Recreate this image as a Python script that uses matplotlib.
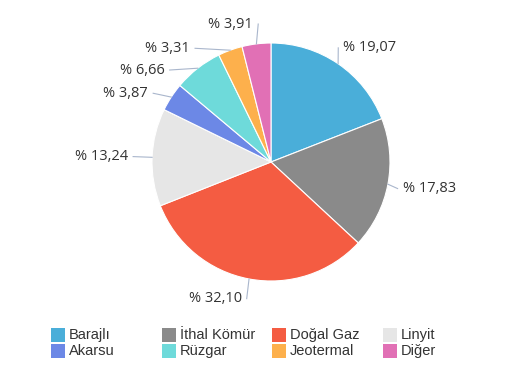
import numpy as np
import matplotlib
matplotlib.use("Agg")
import matplotlib.pyplot as plt
from matplotlib.patches import Rectangle

categories = ["Barajlı", "İthal Kömür", "Doğal Gaz", "Linyit", "Akarsu", "Rüzgar", "Jeotermal", "Diğer"]
values = [19.07, 17.83, 32.10, 13.24, 3.87, 6.66, 3.31, 3.91]
labels = ["% 19,07", "% 17,83", "% 32,10", "% 13,24", "% 3,87", "% 6,66", "% 3,31", "% 3,91"]
colors = ["#4aaed9", "#8a8a8a", "#f45c42", "#e6e6e6", "#6c88e6", "#6edada", "#fdb04c", "#e170b5"]

# layout (pixels)
W, H = 511, 374
cx, cy = 271, H - 162
R = 119
label_r = 137
gap = 5
nudges = [(-5, -1), (-3, 1), (-4, 2), (-6, 0), (-8, 6), (-22, 16), (-34, 15), (-1, -2)]

fig = plt.figure(figsize=(W / 100, H / 100), dpi=100)
ax = fig.add_axes([0, 0, 1, 1])
ax.axis("off")

wedges, _ = ax.pie(values, colors=colors, startangle=90, counterclock=False,
                   center=(cx, cy), radius=R,
                   wedgeprops=dict(edgecolor="white", linewidth=0.8))
ax.set_xlim(0, W)
ax.set_ylim(0, H)
ax.set_aspect("equal")

for w, lab, (ndx, ndy) in zip(wedges, labels, nudges):
    th = np.deg2rad((w.theta1 + w.theta2) / 2)
    ex, ey = cx + R * np.cos(th), cy + R * np.sin(th)
    tx = cx + label_r * np.cos(th) + ndx
    ty = cy + label_r * np.sin(th) - ndy
    right = np.cos(th) >= 0
    ha = "left" if right else "right"
    lx = tx - gap if right else tx + gap
    ax.plot([ex, lx], [ey, ty], color="#a9b6cc", lw=0.8, zorder=1)
    ax.text(tx, ty, lab, ha=ha, va="center", fontsize=10.5,
            family="Open Sans", color="#333333")

# legend
col_x = [51, 162, 272, 383]
row_y = [H - 335, H - 351]
for i, (cat, col) in enumerate(zip(categories, colors)):
    r, c = divmod(i, 4)
    x, y = col_x[c], row_y[r]
    ax.add_patch(Rectangle((x, y - 7), 14, 14, facecolor=col, edgecolor="none"))
    ax.text(x + 18, y, cat, ha="left", va="center", fontsize=10.5,
            family="Liberation Sans", color="#333333")

fig.savefig("out.png", dpi=100, facecolor="white")
